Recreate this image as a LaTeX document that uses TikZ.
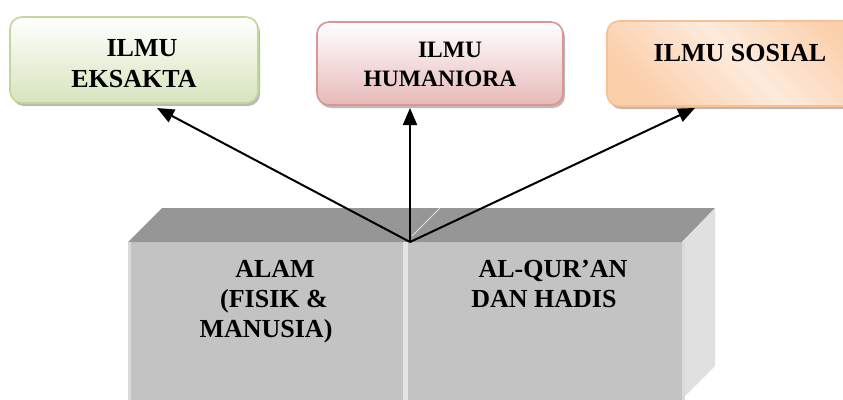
\documentclass[tikz,border=0pt]{standalone}
\usepackage{fontspec}
\setmainfont{Liberation Serif}
\usetikzlibrary{arrows.meta,shadows,calc}
\definecolor{gbord}{HTML}{C3D69B}
\definecolor{gfill}{HTML}{D7E4BD}
\definecolor{pbord}{HTML}{D99694}
\definecolor{pfill}{HTML}{E6B9B8}
\definecolor{obord}{HTML}{FAC090}
\definecolor{ofill}{HTML}{FBCFAA}
\definecolor{olight}{HTML}{FDEBDD}
\definecolor{frontc}{HTML}{C3C3C3}
\definecolor{topc}{HTML}{969696}
\definecolor{sidec}{HTML}{E0E0E0}
\definecolor{seamc}{HTML}{E4E4E4}
\begin{document}
\begin{tikzpicture}[x=1pt,y=-1pt,
  box/.style={rounded corners=12pt, line width=1.6pt, inner sep=0pt,
    drop shadow={shadow xshift=2pt, shadow yshift=-3pt, opacity=0.45, fill=black!60}},
  lbl/.style={font=\fontsize{26}{31}\selectfont\bfseries, align=center, inner sep=0pt},
  lbls/.style={font=\fontsize{23.5}{29}\selectfont\bfseries, align=center, inner sep=0pt},
  arr/.style={line width=2pt, -{Triangle[length=17pt,width=14pt]}}]
\useasboundingbox (0,0) rectangle (843,399);
\clip (0,0) rectangle (843,399);
% top boxes
\node[box, draw=gbord, top color=white, bottom color=gfill,
  minimum width=248pt, minimum height=86pt] (g) at (134,60) {};
\node[box, draw=pbord, top color=white, bottom color=pfill,
  minimum width=246pt, minimum height=83pt] (p) at (440,63.5) {};
\node[box, draw=obord, left color=ofill, right color=ofill, middle color=olight,
  shading angle=135, minimum width=273pt, minimum height=85pt] (o) at (743.5,63.5) {};
\node[lbl] (gt) at (134,64) {\hspace*{16pt}ILMU\\EKSAKTA};
\node[lbls] (pt) at (440,64.7) {\hspace*{20pt}ILMU\\HUMANIORA};
\node[lbl] (ot) at (740,53.4) {ILMU SOSIAL};
% block
\fill[frontc] (128,242) rectangle (682,400);
\fill[topc] (128,242) -- (162,208) -- (715,208) -- (682,242) -- cycle;
\fill[sidec] (682,242) -- (715,208) -- (715,366) -- (682,399) -- cycle;
\fill[seamc] (403,242) rectangle (408,400);
\fill[black!15] (128,242) rectangle (131,400);
\fill[black!15] (682,242) rectangle (684.5,400);
\draw[black!12, line width=1pt] (412,236) -- (440,208);
\node[lbl, font=\fontsize{26}{30}\selectfont\bfseries] (alam) at (266,302) {\hspace*{18pt}ALAM\\\hspace*{16pt}(FISIK \&\\MANUSIA)};
\node[lbl, font=\fontsize{26}{30}\selectfont\bfseries] (quran) at (544,284.4) {\hspace*{18pt}AL-QUR'AN\\DAN HADIS};
% arrows
\coordinate (apex) at (410,242);
\coordinate (t1) at (157,108);
\coordinate (t2) at (410,108);
\coordinate (t3) at (695,108);
\draw[arr] (apex) -- (t1);
\draw[arr] (apex) -- (t2);
\draw[arr] (apex) -- (t3);
\end{tikzpicture}
\end{document}
